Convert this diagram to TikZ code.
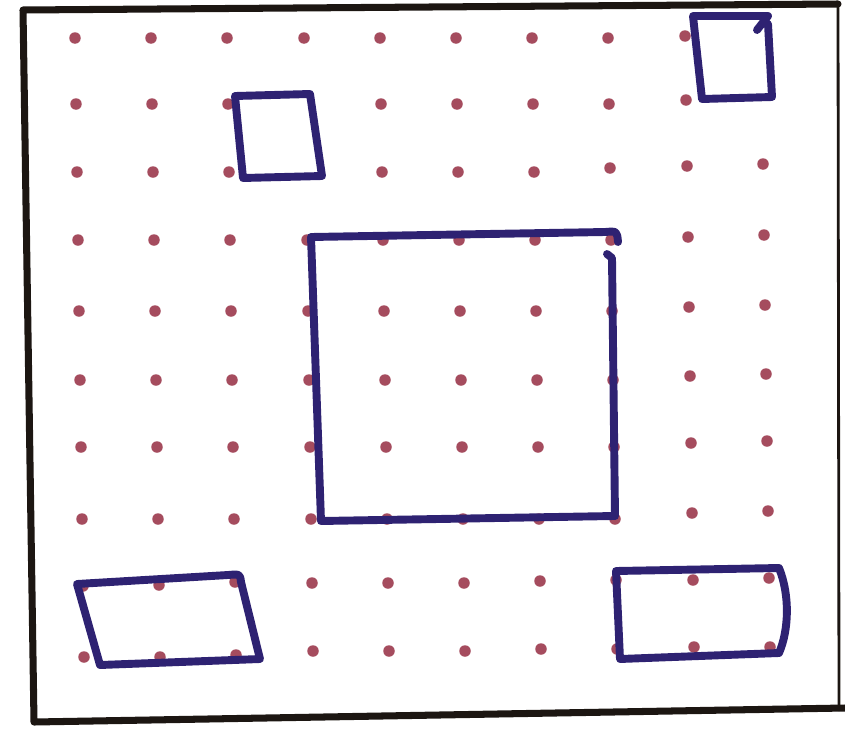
\documentclass[tikz,border=0pt]{standalone}
\usepackage{tikz}
\usepackage{xcolor}
\usetikzlibrary{calc}
\definecolor{DotInk}{HTML}{A54C5E}
\definecolor{PenInk}{HTML}{2E2272}
\definecolor{FrameInk}{HTML}{1C1612}

\begin{document}
\begin{tikzpicture}[x=0.02cm, y=-0.02cm, line join=round, line cap=round]
\def\r{0.115cm}
\def\pen{4.5pt}
\useasboundingbox (0,0) rectangle (845,744);

% sheet edge
\draw[FrameInk, line width=4pt] (838,4) -- (23,10) -- (34,722) -- (845,708);
\draw[FrameInk, line width=1.6pt] (838,4) -- (839,710);

% dots, row by row
\fill[DotInk] (75,38) circle (\r) (151,38) circle (\r) (227,38) circle (\r)
  (304,38) circle (\r) (380,38) circle (\r) (456,38) circle (\r)
  (532,38) circle (\r) (608,38) circle (\r) (685,36) circle (\r);
\fill[DotInk] (76,104) circle (\r) (152,104) circle (\r) (228,104) circle (\r)
  (381,104) circle (\r) (457,104) circle (\r) (533,104) circle (\r)
  (609,104) circle (\r) (686,100) circle (\r);
\fill[DotInk] (77,172) circle (\r) (153,172) circle (\r) (229,172) circle (\r)
  (382,172) circle (\r) (458,172) circle (\r) (534,172) circle (\r)
  (610,168) circle (\r) (687,166) circle (\r) (763,164) circle (\r);
\fill[DotInk] (78,240) circle (\r) (154,240) circle (\r) (230,240) circle (\r)
  (307,240) circle (\r) (383,240) circle (\r) (459,240) circle (\r)
  (535,240) circle (\r) (611,240) circle (\r) (688,237) circle (\r)
  (764,235) circle (\r);
\fill[DotInk] (79,311) circle (\r) (155,311) circle (\r) (231,311) circle (\r)
  (308,311) circle (\r) (384,311) circle (\r) (460,311) circle (\r)
  (536,311) circle (\r) (612,311) circle (\r) (689,307) circle (\r)
  (765,305) circle (\r);
\fill[DotInk] (80,380) circle (\r) (156,380) circle (\r) (232,380) circle (\r)
  (309,380) circle (\r) (385,380) circle (\r) (461,380) circle (\r)
  (537,380) circle (\r) (613,380) circle (\r) (690,376) circle (\r)
  (766,374) circle (\r);
\fill[DotInk] (81,447) circle (\r) (157,447) circle (\r) (233,447) circle (\r)
  (310,447) circle (\r) (386,447) circle (\r) (462,447) circle (\r)
  (538,447) circle (\r) (614,447) circle (\r) (691,443) circle (\r)
  (767,441) circle (\r);
\fill[DotInk] (82,519) circle (\r) (158,519) circle (\r) (234,519) circle (\r)
  (311,519) circle (\r) (387,519) circle (\r) (463,519) circle (\r)
  (539,519) circle (\r) (615,519) circle (\r) (692,513) circle (\r)
  (768,511) circle (\r);
\fill[DotInk] (83,586) circle (\r) (159,585) circle (\r) (235,582) circle (\r)
  (312,583) circle (\r) (388,583) circle (\r) (464,583) circle (\r)
  (540,581) circle (\r) (616,580) circle (\r) (693,580) circle (\r)
  (769,578) circle (\r);
\fill[DotInk] (84,657) circle (\r) (160,657) circle (\r) (236,655) circle (\r)
  (313,651) circle (\r) (389,651) circle (\r) (465,651) circle (\r)
  (541,649) circle (\r) (617,649) circle (\r) (694,647) circle (\r)
  (770,647) circle (\r);

% drawn shapes
\draw[PenInk, line width=\pen] (757,30) -- (768,16) -- (693,16) -- (702,99)
  -- (772,97) -- (768,24);
\draw[PenInk, line width=\pen] (235,96) -- (310,94) -- (322,176) -- (243,178) -- cycle;
\draw[PenInk, line width=\pen] (614,516) -- (321,521) -- (311,237) -- (605,232)
  .. controls (617,231) .. (618,242);
\draw[PenInk, line width=\pen] (607,254) -- (612,258) -- (615,516);
\draw[PenInk, line width=\pen] (77,584) -- (228,575) .. controls (240,574) .. (241,582)
  -- (260,659) -- (100,665) -- cycle;
\draw[PenInk, line width=\pen] (616,571) -- (779,568)
  .. controls (790,595) and (789,630) .. (779,653) -- (620,659) -- cycle;
\end{tikzpicture}
\end{document}
